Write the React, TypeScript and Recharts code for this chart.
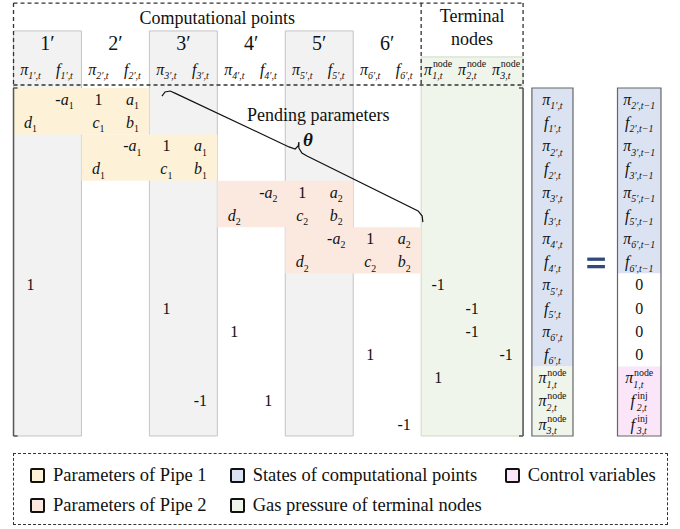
import React from 'react'
import { ScatterChart, Scatter, XAxis, YAxis, ReferenceArea, ReferenceLine } from 'recharts'

const SERIF = "'Liberation Serif', 'Times New Roman', serif"

// column groups of the matrix
const points = ['1′', '2′', '3′', '4′', '5′', '6′']
const terminalNodes = ['1', '2', '3']

// non-zero coefficients: [row, column, entry]
const pipe1Coefs: [number, number, string][] = [
  [0, 1, '-a_1'], [0, 2, '1'], [0, 3, 'a_1'],
  [1, 0, 'd_1'], [1, 2, 'c_1'], [1, 3, 'b_1'],
  [2, 3, '-a_1'], [2, 4, '1'], [2, 5, 'a_1'],
  [3, 2, 'd_1'], [3, 4, 'c_1'], [3, 5, 'b_1'],
]
const pipe2Coefs: [number, number, string][] = [
  [4, 7, '-a_2'], [4, 8, '1'], [4, 9, 'a_2'],
  [5, 6, 'd_2'], [5, 8, 'c_2'], [5, 9, 'b_2'],
  [6, 9, '-a_2'], [6, 10, '1'], [6, 11, 'a_2'],
  [7, 8, 'd_2'], [7, 10, 'c_2'], [7, 11, 'b_2'],
]
const boundaryCoefs: [number, number, string][] = [
  [8, 0, '1'], [8, 12, '-1'],
  [9, 4, '1'], [9, 13, '-1'],
  [10, 6, '1'], [10, 13, '-1'],
  [11, 10, '1'], [11, 14, '-1'],
  [12, 12, '1'],
  [13, 5, '-1'], [13, 7, '1'],
  [14, 11, '-1'],
]

// pipe parameter blocks: [pipe, first row, first column], each 2 rows x 4 columns
const pipeBlocks: [number, number, number][] = [[1, 0, 0], [1, 2, 2], [2, 4, 6], [2, 6, 8]]

const stateVector = [
  'π_1′,t', 'f_1′,t', 'π_2′,t', 'f_2′,t', 'π_3′,t', 'f_3′,t',
  'π_4′,t', 'f_4′,t', 'π_5′,t', 'f_5′,t', 'π_6′,t', 'f_6′,t',
  'π_1,t^node', 'π_2,t^node', 'π_3,t^node',
]
const stateBands = [
  { from: 0, to: 11, kind: 'state' },
  { from: 12, to: 14, kind: 'terminal' },
]
const rhsVector = [
  'π_2′,t−1', 'f_2′,t−1', 'π_3′,t−1', 'f_3′,t−1',
  'π_5′,t−1', 'f_5′,t−1', 'π_6′,t−1', 'f_6′,t−1',
  '0', '0', '0', '0',
  'π_1,t^node', 'f_2,t^inj', 'f_3,t^inj',
]
const rhsBands = [
  { from: 0, to: 7, kind: 'state' },
  { from: 8, to: 11, kind: 'none' },
  { from: 12, to: 14, kind: 'control' },
]

const legendItems = [
  { label: 'Parameters of Pipe 1', kind: 'pipe1' },
  { label: 'States of computational points', kind: 'state' },
  { label: 'Control variables', kind: 'control' },
  { label: 'Parameters of Pipe 2', kind: 'pipe2' },
  { label: 'Gas pressure of terminal nodes', kind: 'terminal' },
]

const COLORS: Record<string, string> = {
  pipe1: '#fdf2d8',
  pipe2: '#fbe9df',
  state: '#dbe3f3',
  terminal: '#eff5ea',
  control: '#fae6f8',
  none: '#ffffff',
  grey: '#f2f2f2',
}

// layout in grid units (x = matrix column, y = matrix row)
const X_DOMAIN = [-0.898, 19.12]
const Y_DOMAIN = [-4.293, 18.509]
const TOP = -0.5
const BOTTOM = 14.5
const LEFT = -0.5
const RIGHT = 14.5
const HEAD_TOP = -4.16
const HEAD_BOTTOM = -0.63
const GREY_TOP = -2.96
const GREEN_TOP = -1.84
const STATE_X = [14.76, 15.97]
const RHS_X = [17.28, 18.56]

// curly brace for "Pending parameters"
const braceOutline = [
  [3.87, -0.15], [3.96, -0.33], [4.11, -0.37], [4.25, -0.28],
  [7.61, 2.04], [7.79, 2.13], [7.88, 2.0], [7.9, 1.83],
  [7.9, 2.09], [7.99, 2.3], [8.14, 2.43],
  [11.41, 4.8], [11.53, 5.02], [11.55, 5.28],
]

const CHAR_W: Record<string, number> = {
  π: 0.55, f: 0.42, a: 0.5, b: 0.5, c: 0.44, d: 0.5, n: 0.5, o: 0.5, e: 0.44,
  i: 0.28, j: 0.28, t: 0.28, ',': 0.25, '′': 0.25, '−': 0.56,
}
const textW = (s: string, size: number) =>
  [...s].reduce((w, ch) => w + (CHAR_W[ch] ?? 0.5), 0) * size

function parseSym(s: string) {
  let pre = ''
  if (s.startsWith('-') && s.length > 1 && /[a-zπ]/.test(s[1])) {
    pre = '-'
    s = s.slice(1)
  }
  const [main, sup = ''] = s.split('^')
  const [base, sub = ''] = main.split('_')
  return { pre, base, sub, sup, upright: /^[-\d]/.test(base) }
}

function SymText({ cx, cy, entry, size }: any) {
  const { pre, base, sub, sup, upright } = parseSym(entry)
  const small = size * 0.62
  const baseline = cy + size * 0.32
  const baseStyle = upright ? 'normal' : 'italic'
  const subStyle = /[a-z]/.test(sub) ? 'italic' : 'normal'
  if (!sup) {
    return (
      <text x={cx} y={baseline} textAnchor="middle" fontSize={size} fontFamily={SERIF} fill="#111">
        {pre && <tspan>{pre}</tspan>}
        <tspan fontStyle={baseStyle}>{base}</tspan>
        {sub && (
          <tspan fontSize={small} dy={size * 0.28} fontStyle={subStyle}>
            {sub}
          </tspan>
        )}
      </text>
    )
  }
  const bw = textW(base, size)
  const total = bw + Math.max(textW(sub, small), textW(sup, small))
  const left = cx - total / 2
  return (
    <g fontFamily={SERIF} fill="#111">
      <text x={left} y={baseline} fontSize={size} fontStyle={baseStyle}>{base}</text>
      <text x={left + bw - size * 0.04} y={baseline + size * 0.3} fontSize={small} fontStyle={subStyle}>{sub}</text>
      <text x={left + bw} y={baseline - size * 0.45} fontSize={small}>{sup}</text>
    </g>
  )
}

function PlainText({ cx, cy, text, size, bold, italic }: any) {
  return (
    <text x={cx} y={cy + size * 0.33} textAnchor="middle" fontSize={size} fontFamily={SERIF} fill="#111"
      fontWeight={bold ? 'bold' : 'normal'} fontStyle={italic ? 'italic' : 'normal'}>
      {text}
    </text>
  )
}

const symShape = (size: number) => (p: any) =>
  <SymText cx={p.cx} cy={p.cy} entry={p.payload.text} size={size} />
const plainShape = (p: any) =>
  <PlainText cx={p.cx} cy={p.cy} text={p.payload.text} size={p.payload.size} bold={p.payload.bold} italic={p.payload.italic} />

export default function App() {
  const toPoints = (coefs: [number, number, string][]) =>
    coefs.map(([row, col, text]) => ({ x: col, y: row, text }))
  const matrixData = [...toPoints(pipe1Coefs), ...toPoints(pipe2Coefs), ...toPoints(boundaryCoefs)]

  const headerVars = [
    ...points.flatMap((p, i) => [
      { x: 2 * i, text: `π_${p},t` },
      { x: 2 * i + 1, text: `f_${p},t` },
    ]),
    ...terminalNodes.map((n, j) => ({ x: 12 + j, text: `π_${n},t^node` })),
  ].map((d) => ({ ...d, y: -1.3 }))

  const titles = [
    ...points.map((p, i) => ({ x: 2 * i + 0.5, y: -2.44, text: p, size: 20 })),
    { x: 5.5, y: -3.52, text: 'Computational points', size: 18 },
    { x: 13, y: -3.6, text: 'Terminal', size: 18 },
    { x: 13, y: -2.61, text: 'nodes', size: 18 },
    { x: 8.47, y: 0.66, text: 'Pending parameters', size: 18 },
    { x: 8.17, y: 1.74, text: 'θ', size: 19, bold: true, italic: true },
  ]

  const stateX = (STATE_X[0] + STATE_X[1]) / 2
  const rhsX = (RHS_X[0] + RHS_X[1]) / 2
  const stateData = stateVector.map((text, i) => ({ x: stateX, y: i, text }))
  const rhsData = rhsVector.map((text, i) => ({ x: rhsX, y: i, text }))
  const braceData = braceOutline.map(([x, y]) => ({ x, y }))

  const dashed = { stroke: '#333', strokeWidth: 1.3, strokeDasharray: '4 3' }
  const bracket = { stroke: '#555', strokeWidth: 1.5 }

  return (
    <div style={{ position: 'absolute', left: 0, top: 0, width: 680, height: 529, background: '#fff' }}>
      <ScatterChart width={680} height={529} margin={{ top: 0, right: 0, bottom: 0, left: 0 }}>
        <XAxis type="number" dataKey="x" domain={X_DOMAIN} hide allowDataOverflow />
        <YAxis type="number" dataKey="y" domain={Y_DOMAIN} hide reversed allowDataOverflow />

        {/* shaded computational point columns */}
        {points.map((p, i) =>
          i % 2 === 0 ? (
            <ReferenceArea key={p} x1={2 * i - 0.5} x2={2 * i + 1.5} y1={GREY_TOP} y2={BOTTOM}
              fill={COLORS.grey} fillOpacity={1} stroke="#c4c4c4" strokeWidth={1} />
          ) : null
        )}
        <ReferenceArea x1={11.5} x2={RIGHT} y1={GREEN_TOP} y2={BOTTOM}
          fill={COLORS.terminal} fillOpacity={1} stroke="#cfdac6" strokeWidth={1} />

        {/* pipe parameter blocks */}
        {pipeBlocks.map(([pipe, row, col]) => (
          <ReferenceArea key={`${row}-${col}`} x1={col - 0.5} x2={col + 3.5} y1={row - 0.5} y2={row + 1.5}
            fill={COLORS[`pipe${pipe}`]} fillOpacity={1} stroke="none" />
        ))}

        {/* vectors */}
        {stateBands.map((b) => (
          <ReferenceArea key={`s${b.from}`} x1={STATE_X[0]} x2={STATE_X[1]} y1={b.from - 0.5} y2={b.to + 0.5}
            fill={COLORS[b.kind]} fillOpacity={1} stroke="none" />
        ))}
        {rhsBands.map((b) => (
          <ReferenceArea key={`r${b.from}`} x1={RHS_X[0]} x2={RHS_X[1]} y1={b.from - 0.5} y2={b.to + 0.5}
            fill={COLORS[b.kind]} fillOpacity={1} stroke="none" />
        ))}
        <ReferenceArea x1={STATE_X[0]} x2={STATE_X[1]} y1={TOP} y2={BOTTOM} fill="none" stroke="#666" strokeWidth={1.2} />
        <ReferenceArea x1={RHS_X[0]} x2={RHS_X[1]} y1={TOP} y2={BOTTOM} fill="none" stroke="#666" strokeWidth={1.2} />

        {/* header box */}
        <ReferenceLine segment={[{ x: LEFT, y: HEAD_TOP }, { x: RIGHT, y: HEAD_TOP }]} {...dashed} />
        <ReferenceLine segment={[{ x: LEFT, y: HEAD_BOTTOM }, { x: RIGHT, y: HEAD_BOTTOM }]} {...dashed} />
        <ReferenceLine segment={[{ x: LEFT, y: HEAD_TOP }, { x: LEFT, y: HEAD_BOTTOM }]} {...dashed} />
        <ReferenceLine segment={[{ x: 11.5, y: HEAD_TOP }, { x: 11.5, y: HEAD_BOTTOM }]} {...dashed} />
        <ReferenceLine segment={[{ x: RIGHT, y: HEAD_TOP }, { x: RIGHT, y: HEAD_BOTTOM }]} {...dashed} />

        {/* matrix brackets */}
        <ReferenceLine segment={[{ x: LEFT, y: TOP }, { x: LEFT, y: BOTTOM }]} {...bracket} />
        <ReferenceLine segment={[{ x: LEFT, y: TOP }, { x: LEFT + 0.12, y: TOP }]} {...bracket} />
        <ReferenceLine segment={[{ x: LEFT, y: BOTTOM }, { x: LEFT + 0.12, y: BOTTOM }]} {...bracket} />
        <ReferenceLine segment={[{ x: RIGHT, y: TOP }, { x: RIGHT, y: BOTTOM }]} {...bracket} />
        <ReferenceLine segment={[{ x: RIGHT, y: TOP }, { x: RIGHT - 0.12, y: TOP }]} {...bracket} />
        <ReferenceLine segment={[{ x: RIGHT, y: BOTTOM }, { x: RIGHT - 0.12, y: BOTTOM }]} {...bracket} />

        {/* equals sign */}
        <ReferenceLine segment={[{ x: 16.39, y: 6.88 }, { x: 16.91, y: 6.88 }]} stroke="#2f4a7b" strokeWidth={3.3} />
        <ReferenceLine segment={[{ x: 16.39, y: 7.2 }, { x: 16.91, y: 7.2 }]} stroke="#2f4a7b" strokeWidth={3.3} />

        <Scatter data={braceData} line={{ stroke: '#111', strokeWidth: 1.2, fill: 'none' }} shape={() => <g />} isAnimationActive={false} />
        <Scatter data={matrixData} shape={symShape(16)} isAnimationActive={false} />
        <Scatter data={headerVars} shape={symShape(16)} isAnimationActive={false} />
        <Scatter data={stateData} shape={symShape(16)} isAnimationActive={false} />
        <Scatter data={rhsData} shape={symShape(16)} isAnimationActive={false} />
        <Scatter data={titles} shape={plainShape} isAnimationActive={false} />
      </ScatterChart>

      <div
        style={{
          position: 'absolute', left: 13, top: 453, width: 655, height: 72, boxSizing: 'border-box',
          border: '1.3px dashed #333', fontFamily: SERIF, fontSize: 18.5, color: '#111',
          display: 'grid', gridTemplateColumns: 'auto auto auto', justifyContent: 'start',
          columnGap: 23, rowGap: 8, padding: '10px 0 0 16px', alignContent: 'start',
        }}
      >
        {legendItems.map((item) => (
          <div key={item.label} style={{ display: 'flex', alignItems: 'center', lineHeight: '22px', whiteSpace: 'nowrap' }}>
            <span
              style={{
                display: 'inline-block', width: 11, height: 11, border: '2px solid #111', borderRadius: 2,
                background: COLORS[item.kind], marginRight: 8, flexShrink: 0,
              }}
            />
            {item.label}
          </div>
        ))}
      </div>
    </div>
  )
}
